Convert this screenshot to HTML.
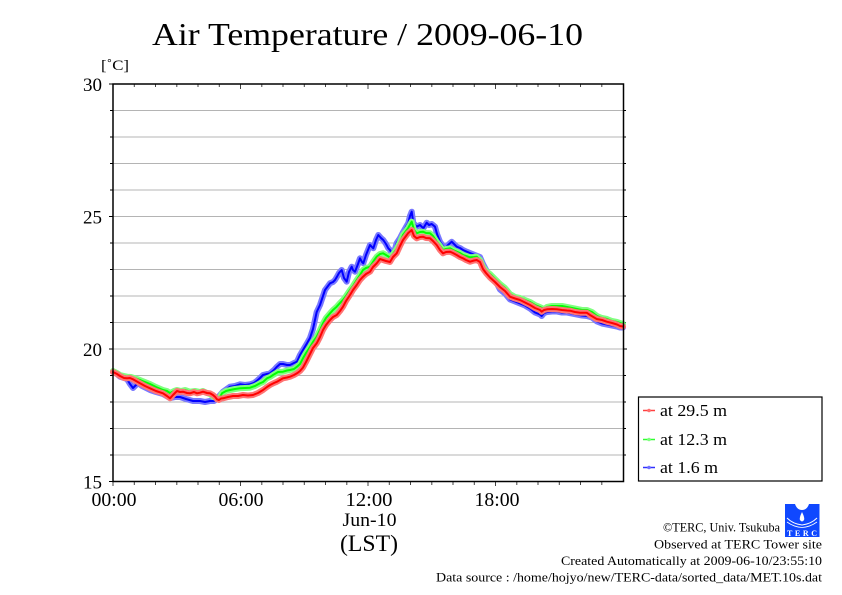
<!DOCTYPE html>
<html><head><meta charset="utf-8"><style>
html,body{margin:0;padding:0;background:#fff;}
svg{display:block;}
text{font-family:"Liberation Serif",serif;fill:#000;}
</style></head><body>
<svg width="842" height="595" viewBox="0 0 842 595" xmlns="http://www.w3.org/2000/svg">
<rect width="842" height="595" fill="#fff"/>
<!-- title -->
<text x="367.5" y="45" font-size="32" text-anchor="middle" textLength="431" lengthAdjust="spacingAndGlyphs">Air Temperature / 2009-06-10</text>
<text x="101" y="70" font-size="15" textLength="28" lengthAdjust="spacingAndGlyphs">[˚C]</text>
<!-- grid -->
<g stroke="#b4b4b4" stroke-width="1">
<path d="M113 110.5H623M113 137H623M113 163.5H623M113 190H623M113 216.5H623M113 243H623M113 269.5H623M113 296H623M113 322.5H623M113 349H623M113 375.5H623M113 402H623M113 428.5H623M113 455H623"/>
</g>
<!-- ticks left/right -->
<g stroke="#000" stroke-width="1">
<path d="M109 84H113M110 110.5H113M110 137H113M110 163.5H113M110 190H113M109 216.5H113M110 243H113M110 269.5H113M110 296H113M110 322.5H113M109 349H113M110 375.5H113M110 402H113M110 428.5H113M110 455H113M109 481.5H113"/>
<path d="M623 110.5H626M623 137H626M623 163.5H626M623 190H626M623 216.5H627M623 243H626M623 269.5H626M623 296H626M623 322.5H626M623 349H627M623 375.5H626M623 402H626M623 428.5H626M623 455H626"/>
</g>
<g stroke="#444" stroke-width="1" id="tk">
<path d="M134.3 84V87M155.5 84V87M176.8 84V87M198 84V87M219.3 84V87M240.5 84V89M261.8 84V87M283 84V87M304.3 84V87M325.5 84V87M346.8 84V87M368 84V89M389.3 84V87M410.5 84V87M431.8 84V87M453 84V87M474.3 84V87M495.5 84V89M516.8 84V87M538 84V87M559.3 84V87M580.5 84V87M601.8 84V87"/>
<path d="M113 481.5V486M134.3 481.5V485M155.5 481.5V485M176.8 481.5V485M198 481.5V485M219.3 481.5V485M240.5 481.5V486M261.8 481.5V485M283 481.5V485M304.3 481.5V485M325.5 481.5V485M346.8 481.5V485M368 481.5V486M389.3 481.5V485M410.5 481.5V485M431.8 481.5V485M453 481.5V485M474.3 481.5V485M495.5 481.5V486M516.8 481.5V485M538 481.5V485M559.3 481.5V485M580.5 481.5V485M601.8 481.5V485"/>
</g>
<!-- series -->
<g fill="none" stroke-linejoin="round" stroke-linecap="round">
<polyline stroke="#7878ff" stroke-width="6" points="113,372 117,374 120,376.7 124,378 127,379 130,384 133,388 136,385 138,383 142,386 146,388 150,390 156,392 163,394 170,398 175,397 180,397 186,399 193,401 200,401 205,402 210,401 214,401 217,399 220,395 223,391.7 230,386.7 235,386 240,384.3 245,385 250,384.3 254,383 257,380.7 260,378 263,375 267,374 270,373.3 274,370 277,366.7 280,364 283,364 287,365 290,365 294,363 297,361.7 300,355 303,350 307,343.3 310,338 313,329 316.7,312 320,305 325,290 328,286 330,283.3 333,282 335,280 337,276.7 339,273 341.7,270 344,278 346.7,281.7 349,272 351.7,266.7 353,270 355,271.7 358,264 360,258.3 362,262 363.3,263.3 366,255 368,250 370,245 373.3,248.3 376,240 378.3,235 381,238 383.3,240 386,244 388.3,248.3 390,250 393,256 396.7,243 400,238 403.3,231.7 406,227 408.3,223 410,216 411.7,211.7 413.3,223 416.7,226.7 420,225 423.3,228.3 426.7,222.7 429,225 431.7,224 435,226.7 437,234 440,241.7 443,246 445,248.3 448,245 451.7,241.7 454,244 456.7,246.7 460,248 463,250 466.7,251.7 470,253 475,255 480,257 483,264 486.7,271 490,277 496.7,283 500,289.5 505,293.5 510,299.5 515,301.5 520,303.5 525,305.5 530,308.5 535,312.5 540,314.5 541.7,316 544,313 547,312 552,311.5 557,311.5 562,312.5 567,312.5 572,313.5 577,314.5 582,315.5 587,316 592,317.5 597,321.5 602,323.5 607,324.5 612,325.5 617,326.5 620,327.5 623,327.5"/>
<polyline stroke="#0000ff" stroke-width="2" points="113,372 117,374 120,376.7 124,378 127,379 130,384 133,388 136,385 138,383 142,386 146,388 150,390 156,392 163,394 170,398 175,397 180,397 186,399 193,401 200,401 205,402 210,401 214,401 217,399 220,395 223,391.7 230,386.7 235,386 240,384.3 245,385 250,384.3 254,383 257,380.7 260,378 263,375 267,374 270,373.3 274,370 277,366.7 280,364 283,364 287,365 290,365 294,363 297,361.7 300,355 303,350 307,343.3 310,338 313,329 316.7,312 320,305 325,290 328,286 330,283.3 333,282 335,280 337,276.7 339,273 341.7,270 344,278 346.7,281.7 349,272 351.7,266.7 353,270 355,271.7 358,264 360,258.3 362,262 363.3,263.3 366,255 368,250 370,245 373.3,248.3 376,240 378.3,235 381,238 383.3,240 386,244 388.3,248.3 390,250 393,256 396.7,243 400,238 403.3,231.7 406,227 408.3,223 410,216 411.7,211.7 413.3,223 416.7,226.7 420,225 423.3,228.3 426.7,222.7 429,225 431.7,224 435,226.7 437,234 440,241.7 443,246 445,248.3 448,245 451.7,241.7 454,244 456.7,246.7 460,248 463,250 466.7,251.7 470,253 475,255 480,257 483,264 486.7,271 490,277 496.7,283 500,289.5 505,293.5 510,299.5 515,301.5 520,303.5 525,305.5 530,308.5 535,312.5 540,314.5 541.7,316 544,313 547,312 552,311.5 557,311.5 562,312.5 567,312.5 572,313.5 577,314.5 582,315.5 587,316 592,317.5 597,321.5 602,323.5 607,324.5 612,325.5 617,326.5 620,327.5 623,327.5"/>
<polyline stroke="#80ff80" stroke-width="6" points="113,371 117,373 120,375 124,376 127,376.7 131,377 134,378 137,379 140,380 145,382 150,384 156,387 163,390 167,391 170,393 174,391 177,390 181,391 185,390 190,391.7 195,391 200,392 203,391 207,393 210,394 213,396.7 216,398 219,399 222,393.3 226,391 230,390 235,389 240,388.3 245,388 250,387.7 255,386 260,383.3 263,382 267,378.3 270,377 273,375 278,372 283,371.7 287,370.5 290,370 294,369 297,366.7 300,364 303,358.3 306,353 310,347 313,342 316.7,336.7 320,330 323,323.3 326,318 330,313.3 333,310 336.7,306.7 340,303 343,300 346,296 350,290 353,286 356.7,280 360,275 363,270 366,268 370,266.7 373,262 376.7,256.7 380,254 383,253.3 386,255 390,257.5 393,254 396.7,249 400,242 403,235 406,231 408,228.3 411.7,221.7 414,230 416.7,233.3 420,232 423,231.7 426,233 430,233.3 433,236 436.7,241.7 440,246 443,250 446,249 450,248.3 453,250 456.7,251.7 460,253 463,255 466,256 470,257.3 474,257 476.7,256.7 480,260 483,266.7 486,271 490,274 495,279 500,284 505,288 510,294 515,297 520,298 525,300 530,302 535,305 540,307 544,309 547,307 552,306 557,306 562,306 567,307 572,308 577,309 582,310 587,310 592,312 597,316 602,318 607,319 612,321 617,322 620,323 623,324"/>
<polyline stroke="#00ff00" stroke-width="2" points="113,371 117,373 120,375 124,376 127,376.7 131,377 134,378 137,379 140,380 145,382 150,384 156,387 163,390 167,391 170,393 174,391 177,390 181,391 185,390 190,391.7 195,391 200,392 203,391 207,393 210,394 213,396.7 216,398 219,399 222,393.3 226,391 230,390 235,389 240,388.3 245,388 250,387.7 255,386 260,383.3 263,382 267,378.3 270,377 273,375 278,372 283,371.7 287,370.5 290,370 294,369 297,366.7 300,364 303,358.3 306,353 310,347 313,342 316.7,336.7 320,330 323,323.3 326,318 330,313.3 333,310 336.7,306.7 340,303 343,300 346,296 350,290 353,286 356.7,280 360,275 363,270 366,268 370,266.7 373,262 376.7,256.7 380,254 383,253.3 386,255 390,257.5 393,254 396.7,249 400,242 403,235 406,231 408,228.3 411.7,221.7 414,230 416.7,233.3 420,232 423,231.7 426,233 430,233.3 433,236 436.7,241.7 440,246 443,250 446,249 450,248.3 453,250 456.7,251.7 460,253 463,255 466,256 470,257.3 474,257 476.7,256.7 480,260 483,266.7 486,271 490,274 495,279 500,284 505,288 510,294 515,297 520,298 525,300 530,302 535,305 540,307 544,309 547,307 552,306 557,306 562,306 567,307 572,308 577,309 582,310 587,310 592,312 597,316 602,318 607,319 612,321 617,322 620,323 623,324"/>
<polyline stroke="#ff7474" stroke-width="6" points="113,372 117,374 120,376 124,378 127,378.3 130,378 133,379.3 136,381 140,383.3 145,386 150,388.3 156,391 163,393.3 167,396 170,398.3 173,395 177,391 180,392 183,391.7 187,393 190,393.3 194,392 197,393.3 200,392.7 203,391.7 207,393 210,393.3 213,395 215,396.7 217,399.3 219,400 221,398.5 223,398.3 228,397 233,396 238,396 243,395 248,395.5 253,395 258,393 263,390 267,387 270,385 274,383 277,381.7 280,380 283,378.3 287,377.5 290,376.7 294,375 297,373.3 300,371 303,367.5 306,362 310,354 313,348 316.7,343.3 320,337 323,330 326,325 330,320 333,317 336.7,315 340,311 343,306.7 346,301 350,295 353,290 356.7,285 360,280 363,276.7 366,274 370,271.7 373,267 376.7,263.3 380,259 383,260 386,261 390,262 393,257 396.7,253.3 400,246 403,240 406,236 408,233.3 411.7,230 414,236 416.7,238.3 420,237 423,236.7 426,238 430,238.3 433,241 436.7,245 440,250 443,253.3 446,252 450,251.7 453,253 456.7,255 460,257 463,258.3 466,260 470,261.7 474,260.5 476.7,260 480,262 483,269 486,273 490,277.5 495,282 500,287 505,291 510,296.7 515,298.5 520,300 525,302.5 530,305 535,308 540,310 541.7,311.7 544,310 547,309.3 552,309 557,309.3 562,310 567,310.5 570,310.7 575,312 580,312.7 586.7,312.7 590,315 596.7,319 602,320 606.7,321.7 612,323 617,324.5 620,326 623,326.5"/>
<polyline stroke="#ff0000" stroke-width="2" points="113,372 117,374 120,376 124,378 127,378.3 130,378 133,379.3 136,381 140,383.3 145,386 150,388.3 156,391 163,393.3 167,396 170,398.3 173,395 177,391 180,392 183,391.7 187,393 190,393.3 194,392 197,393.3 200,392.7 203,391.7 207,393 210,393.3 213,395 215,396.7 217,399.3 219,400 221,398.5 223,398.3 228,397 233,396 238,396 243,395 248,395.5 253,395 258,393 263,390 267,387 270,385 274,383 277,381.7 280,380 283,378.3 287,377.5 290,376.7 294,375 297,373.3 300,371 303,367.5 306,362 310,354 313,348 316.7,343.3 320,337 323,330 326,325 330,320 333,317 336.7,315 340,311 343,306.7 346,301 350,295 353,290 356.7,285 360,280 363,276.7 366,274 370,271.7 373,267 376.7,263.3 380,259 383,260 386,261 390,262 393,257 396.7,253.3 400,246 403,240 406,236 408,233.3 411.7,230 414,236 416.7,238.3 420,237 423,236.7 426,238 430,238.3 433,241 436.7,245 440,250 443,253.3 446,252 450,251.7 453,253 456.7,255 460,257 463,258.3 466,260 470,261.7 474,260.5 476.7,260 480,262 483,269 486,273 490,277.5 495,282 500,287 505,291 510,296.7 515,298.5 520,300 525,302.5 530,305 535,308 540,310 541.7,311.7 544,310 547,309.3 552,309 557,309.3 562,310 567,310.5 570,310.7 575,312 580,312.7 586.7,312.7 590,315 596.7,319 602,320 606.7,321.7 612,323 617,324.5 620,326 623,326.5"/>
</g>
<!-- frame -->
<rect x="113" y="84" width="510.5" height="397.5" fill="none" stroke="#000" stroke-width="1.5"/>
<!-- y labels -->
<g font-size="19" text-anchor="end">
<text x="102" y="91">30</text>
<text x="102" y="223.5">25</text>
<text x="102" y="356">20</text>
<text x="102" y="488.5">15</text>
</g>
<!-- x labels -->
<g font-size="20" text-anchor="middle">
<text x="114" y="506" textLength="45" lengthAdjust="spacingAndGlyphs">00:00</text>
<text x="241" y="506" textLength="45" lengthAdjust="spacingAndGlyphs">06:00</text>
<text x="369" y="506" textLength="47" lengthAdjust="spacingAndGlyphs">12:00</text>
<text x="497" y="506" textLength="45" lengthAdjust="spacingAndGlyphs">18:00</text>
</g>
<text x="369.5" y="526" font-size="19" text-anchor="middle" textLength="54" lengthAdjust="spacingAndGlyphs">Jun-10</text>
<text x="369" y="551" font-size="23" text-anchor="middle" textLength="58" lengthAdjust="spacingAndGlyphs">(LST)</text>
<!-- legend -->
<rect x="638.5" y="397" width="183.5" height="84" fill="#fff" stroke="#000" stroke-width="1.2"/>
<g stroke-width="1.5">
<line x1="643" y1="410.5" x2="655" y2="410.5" stroke="#ff4040"/>
<circle cx="649" cy="410.5" r="1.8" fill="#ff7070" stroke="none"/>
<line x1="643" y1="439.5" x2="655" y2="439.5" stroke="#30ff30"/>
<circle cx="649" cy="439.5" r="1.8" fill="#80ff80" stroke="none"/>
<line x1="643" y1="467.5" x2="655" y2="467.5" stroke="#3030ff"/>
<circle cx="649" cy="467.5" r="1.8" fill="#7070ff" stroke="none"/>
</g>
<g font-size="17">
<text x="660" y="416" textLength="67" lengthAdjust="spacingAndGlyphs">at 29.5 m</text>
<text x="660" y="445" textLength="67" lengthAdjust="spacingAndGlyphs">at 12.3 m</text>
<text x="660" y="473" textLength="58" lengthAdjust="spacingAndGlyphs">at 1.6 m</text>
</g>
<!-- credits -->
<g font-size="13" text-anchor="end">
<text x="780" y="531.5" textLength="117" lengthAdjust="spacingAndGlyphs">©TERC, Univ. Tsukuba</text>
<text x="822" y="548.3" textLength="168" lengthAdjust="spacingAndGlyphs">Observed at TERC Tower site</text>
<text x="822" y="565" textLength="261" lengthAdjust="spacingAndGlyphs">Created Automatically at 2009-06-10/23:55:10</text>
<text x="822" y="581.7" textLength="386" lengthAdjust="spacingAndGlyphs">Data source : /home/hojyo/new/TERC-data/sorted_data/MET.10s.dat</text>
</g>
<!-- logo -->
<g>
<rect x="785" y="504" width="34.5" height="33" fill="#1048ff"/>
<path d="M795 504 Q797 510 802 510 Q807 510 809 504 Z" fill="#fff"/>
<path d="M802 512 Q799 518 800 520 Q802 523 804 520 Q805 518 802 512 Z" fill="#fff"/>
<path d="M787 518 Q793 524 802 525 Q811 524 817 518" fill="none" stroke="#fff" stroke-width="1"/>
<path d="M787 522 Q794 527 802 527.5 Q810 527 817 522" fill="none" stroke="#fff" stroke-width="0.8"/>
<text x="802" y="536" font-family="Liberation Sans,sans-serif" font-size="8" font-weight="bold" text-anchor="middle" style="fill:#fff" textLength="30" lengthAdjust="spacing">TERC</text>
</g>
</svg>
</body></html>
